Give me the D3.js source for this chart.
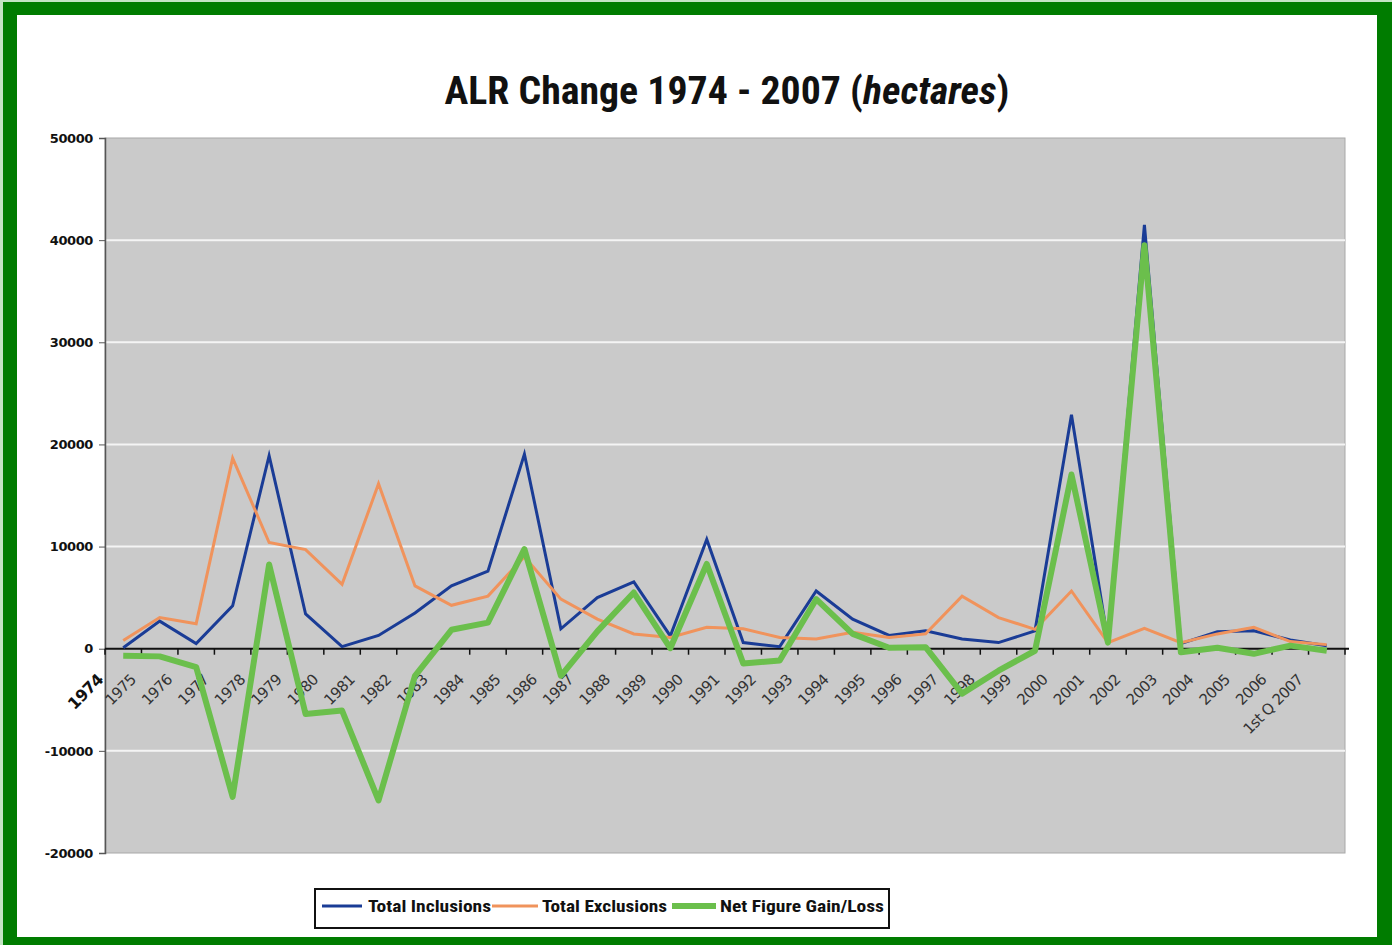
<!DOCTYPE html>
<html>
<head>
<meta charset="utf-8">
<script src="https://cdn.jsdelivr.net/npm/d3@7/dist/d3.min.js"></script>
<style>
  html, body { margin: 0; padding: 0; background: #c4e4c4; }
  svg { display: block; }
</style>
</head>
<body>
<svg id="chart" width="1392" height="945"></svg>
<script>
// ---------- data ----------
const categories = ["1974","1975","1976","1977","1978","1979","1980","1981","1982","1983",
  "1984","1985","1986","1987","1988","1989","1990","1991","1992","1993","1994","1995",
  "1996","1997","1998","1999","2000","2001","2002","2003","2004","2005","2006","1st Q 2007"];

const totalInclusions = [100, 2700, 500, 4200, 18900, 3400, 200, 1300, 3500, 6150,
  7600, 19050, 1950, 5000, 6550, 1250, 10700, 600, 200, 5650, 2900, 1300,
  1750, 950, 600, 1750, 22900, 700, 41500, 500, 1650, 1750, 850, 300];

const totalExclusions = [800, 3050, 2450, 18650, 10400, 9700, 6300, 16150, 6150, 4250,
  5150, 9000, 4850, 2900, 1450, 1100, 2100, 1950, 1100, 950, 1600, 1100,
  1450, 5150, 3050, 1900, 5650, 600, 2000, 600, 1450, 2100, 700, 400];

const netGainLoss = [-700, -750, -1800, -14500, 8250, -6400, -6050, -14850, -2650, 1850,
  2550, 9750, -2650, 1700, 5500, 50, 8300, -1450, -1150, 4850, 1450, 100,
  150, -4400, -2150, -200, 17050, 600, 39500, -350, 100, -500, 300, -200];

const yTicks = [-20000, -10000, 0, 10000, 20000, 30000, 40000, 50000];
const gridValues = [-10000, 10000, 20000, 30000, 40000];

const seriesNames = ["Total Inclusions", "Total Exclusions", "Net Figure Gain/Loss"];

// ---------- layout ----------
const W = 1392, H = 945;
const plot = { left: 105, right: 1345, top: 138, bottom: 853 };

const svg = d3.select("#chart");

// frame
svg.append("rect").attr("x", 0).attr("y", 0).attr("width", W).attr("height", H).attr("fill", "#c4e4c4");
svg.append("rect").attr("x", 3).attr("y", 2).attr("width", W - 3).attr("height", H - 2).attr("fill", "#007c00");
svg.append("rect").attr("x", 17).attr("y", 15).attr("width", 1377 - 17).attr("height", 937 - 15).attr("fill", "#ffffff");

const x = d3.scaleBand().domain(categories).range([plot.left, plot.right]).paddingInner(0).paddingOuter(0);
const y = d3.scaleLinear().domain([-20000, 50000]).range([plot.bottom, plot.top]);
const cx = d => x(d) + x.bandwidth() / 2;

// plot background
svg.append("rect")
  .attr("x", plot.left).attr("y", plot.top)
  .attr("width", plot.right - plot.left).attr("height", plot.bottom - plot.top)
  .attr("fill", "#cacaca").attr("stroke", "#a8a8a8").attr("stroke-width", 1);

// gridlines
svg.append("g").selectAll("line").data(gridValues).join("line")
  .attr("x1", plot.left).attr("x2", plot.right)
  .attr("y1", d => y(d)).attr("y2", d => y(d))
  .attr("stroke", "#f4f4f4").attr("stroke-width", 2);

// title
const title = svg.append("text")
  .attr("x", 727).attr("y", 104)
  .attr("text-anchor", "middle")
  .attr("font-family", "'Liberation Sans Narrow', 'Roboto Condensed', 'Open Sans', sans-serif")
  .attr("font-weight", "bold")
  .attr("font-size", 38)
  .attr("fill", "#111")
  .attr("textLength", 565)
  .attr("lengthAdjust", "spacingAndGlyphs");
title.append("tspan").text("ALR Change  1974 - 2007 (");
title.append("tspan").attr("font-style", "italic").text("hectares");
title.append("tspan").text(")");

// y axis
const yAxis = d3.axisLeft(y).tickValues(yTicks).tickSize(6).tickPadding(6).tickFormat(d => String(d));
const yg = svg.append("g").attr("transform", `translate(${plot.left},0)`).call(yAxis);
yg.select(".domain").attr("stroke", "#555").attr("stroke-width", 1.5);
yg.selectAll(".tick line").attr("stroke", "#555");
yg.selectAll(".tick text")
  .attr("font-family", "'DejaVu Sans', Verdana, sans-serif")
  .attr("font-weight", "bold")
  .attr("font-size", 13)
  .attr("fill", "#111")
  .attr("letter-spacing", -0.4);

// zero axis (category axis)
svg.append("line")
  .attr("x1", plot.left).attr("x2", plot.right + 4)
  .attr("y1", y(0)).attr("y2", y(0))
  .attr("stroke", "#111").attr("stroke-width", 2);
// tick marks at band boundaries
const boundaries = categories.map(c => x(c)).concat([plot.right]);
svg.append("g").selectAll("line").data(boundaries).join("line")
  .attr("x1", d => d).attr("x2", d => d)
  .attr("y1", y(0)).attr("y2", y(0) + 6)
  .attr("stroke", "#111").attr("stroke-width", 1.5);

// category labels
svg.append("g").selectAll("text").data(categories).join("text")
  .attr("transform", (d, i) => `translate(${cx(d) - (i === 0 ? 19 : 23)},${y(0) + 32}) rotate(-45)`)
  .attr("text-anchor", "end")
  .attr("font-family", "'DejaVu Sans', Verdana, sans-serif")
  .attr("font-size", (d, i) => i === 0 ? 16 : 15)
  .attr("font-weight", (d, i) => i === 0 ? "bold" : "normal")
  .attr("letter-spacing", -0.6)
  .attr("fill", (d, i) => i === 0 ? "#111" : "#333")
  .text(d => d);

// lines
const lineGen = d3.line().x((d, i) => cx(categories[i])).y(d => y(d));
const series = [
  { name: seriesNames[0], values: totalInclusions, color: "#1a3c96", width: 3, join: "miter" },
  { name: seriesNames[1], values: totalExclusions, color: "#f0935c", width: 3, join: "miter" },
  { name: seriesNames[2], values: netGainLoss, color: "#6bbf4c", width: 6, join: "round" }
];
svg.append("g").selectAll("path").data(series).join("path")
  .attr("d", s => lineGen(s.values))
  .attr("fill", "none")
  .attr("stroke", s => s.color)
  .attr("stroke-width", s => s.width)
  .attr("stroke-linejoin", s => s.join)
  .attr("stroke-miterlimit", 6);

// legend
const lg = svg.append("g");
lg.append("rect").attr("x", 315).attr("y", 889).attr("width", 574).attr("height", 39)
  .attr("fill", "#fff").attr("stroke", "#111").attr("stroke-width", 2);
const legendItems = [
  { x1: 322, x2: 362, tx: 368, tw: 123 },
  { x1: 492, x2: 538, tx: 542, tw: 125 },
  { x1: 672, x2: 716, tx: 720, tw: 164 }
];
legendItems.forEach((it, i) => {
  lg.append("line").attr("x1", it.x1).attr("x2", it.x2).attr("y1", 906).attr("y2", 906)
    .attr("stroke", series[i].color).attr("stroke-width", series[i].width);
  lg.append("text").attr("x", it.tx).attr("y", 912)
    .attr("font-family", "'Liberation Sans Narrow', 'Roboto Condensed', 'Open Sans', sans-serif")
    .attr("font-weight", "bold")
    .attr("font-size", 17)
    .attr("fill", "#111")
    .attr("textLength", it.tw)
    .attr("lengthAdjust", "spacingAndGlyphs")
    .text(series[i].name);
});
</script>
</body>
</html>
